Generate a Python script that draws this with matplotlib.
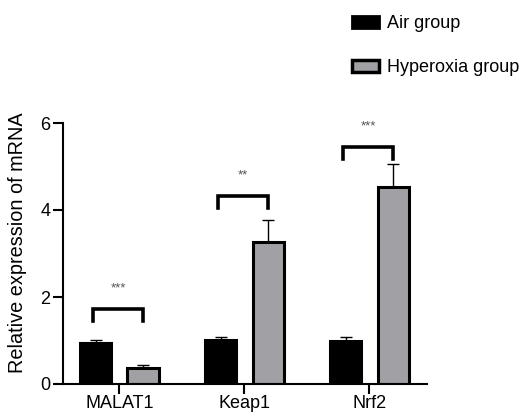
import numpy as np
import matplotlib.pyplot as plt
from matplotlib.patches import Patch

plt.rcParams['font.family'] = ['Liberation Sans', 'DejaVu Sans']

genes = ['MALAT1', 'Keap1', 'Nrf2']
air = [0.94, 1.01, 0.99]
air_err = [0.07, 0.07, 0.09]
hyper = [0.37, 3.27, 4.53]
hyper_err = [0.07, 0.50, 0.52]
stars = ['***', '**', '***']
bracket_top = [1.72, 4.32, 5.45]

x = np.arange(len(genes))
w = 0.25
off = 0.19

fig = plt.figure(figsize=(5.23, 4.17), dpi=100)
ax = fig.add_axes([63/523, 33/417, (427-63)/523, (384-123)/417])

ax.bar(x - off, air, w, color='black', edgecolor='black', linewidth=2.2, zorder=2)
ax.bar(x + off, hyper, w, color='#a1a1a5', edgecolor='black', linewidth=2.2, zorder=2)
ax.errorbar(x - off, air, yerr=[np.zeros(3), air_err], fmt='none', ecolor='black',
            elinewidth=1, capsize=4.5, capthick=1, zorder=1)
ax.errorbar(x + off, hyper, yerr=[np.zeros(3), hyper_err], fmt='none', ecolor='black',
            elinewidth=1, capsize=4.5, capthick=1, zorder=1)

for i in range(3):
    xl, xr = x[i] - 0.21, x[i] + 0.19
    top = bracket_top[i]
    ax.plot([xl, xl, xr, xr], [top - 0.27, top, top, top - 0.27], color='black',
            lw=2.6, solid_joinstyle='miter', clip_on=False)
    ax.text(x[i] - 0.01, top + 0.33, stars[i], ha='center', va='bottom',
            fontsize=9.5, color='#555555')

ax.set_xlim(-0.45, 2.46)
ax.set_ylim(0, 6)
ax.set_yticks([0, 2, 4, 6])
ax.set_xticks(x)
ax.set_xticklabels(genes)
ax.spines['top'].set_visible(False)
ax.spines['right'].set_visible(False)
for s in ['left', 'bottom']:
    ax.spines[s].set_linewidth(1.5)
ax.tick_params(axis='both', length=7, width=1.5, labelsize=13, colors='black')
ax.tick_params(axis='y', pad=2)
ax.tick_params(axis='x', pad=1)
ax.set_ylabel('Relative expression of mRNA', fontsize=14.3)
ax.yaxis.set_label_coords(-0.1, 0.54)

handles = [Patch(facecolor='black', edgecolor='black', linewidth=2),
           Patch(facecolor='#a1a1a5', edgecolor='black', linewidth=2.5)]
fig.legend(handles, ['Air group', 'Hyperoxia group'], loc='upper left',
           bbox_to_anchor=(336/523, 1 + 1/417), frameon=False, fontsize=13,
           handlelength=1.5, handleheight=0.72, labelspacing=1.5, handletextpad=0.45)

plt.savefig('out.png', dpi=100)
